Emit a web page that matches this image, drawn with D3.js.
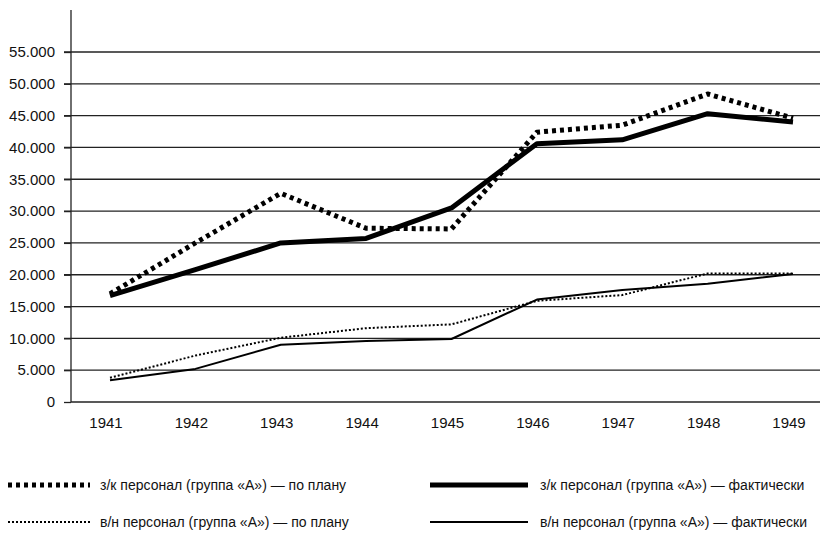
<!DOCTYPE html>
<html>
<head>
<meta charset="utf-8">
<script src="https://cdn.jsdelivr.net/npm/d3@7"></script>
<style>
  body { margin: 0; background: #fff; }
  svg text { font-family: "Liberation Sans Narrow", "Liberation Sans", Arial, sans-serif; fill: #111; }
</style>
</head>
<body>
<div id="chart"></div>
<script>
// годы
const years = ['1941', '1942', '1943', '1944', '1945', '1946', '1947', '1948', '1949'];

// значения серий
const zkPlan = [17000, 25000, 32800, 27300, 27200, 42400, 43500, 48400, 44600];
const zkFact = [16700, 20800, 25000, 25700, 30500, 40600, 41200, 45300, 44000];
const vnPlan = [3800, 7300, 10100, 11600, 12200, 15900, 16800, 20200, 20200];
const vnFact = [3400, 5200, 9000, 9600, 9900, 16100, 17600, 18600, 20100];

const yTicks = [0, 5000, 10000, 15000, 20000, 25000, 30000, 35000, 40000, 45000, 50000, 55000];

const seriesNames = [
    'з/к персонал (группа «А») — по плану',
    'з/к персонал (группа «А») — фактически',
    'в/н персонал (группа «А») — по плану',
    'в/н персонал (группа «А») — фактически'
];

const W = 833, H = 533;
const plotLeft = 71, plotRight = 820, plotBottom = 402, axisTop = 10;

let svg = d3.select('#chart').append('svg')
    .attr('width', W).attr('height', H);

const xScale = d3.scalePoint().domain(years).range([110, 793]);
const yScale = d3.scaleLinear().domain([0, 55000]).range([plotBottom, 52]);

// сетка
svg.append('g').selectAll('line').data(yTicks.filter(d => d > 0)).enter()
    .append('line')
    .attr('x1', plotLeft - 7).attr('x2', plotRight)
    .attr('y1', d => yScale(d)).attr('y2', d => yScale(d))
    .attr('stroke', '#222').attr('stroke-width', 1.3);

// ось y
let yAxis = d3.axisLeft(yScale).tickValues(yTicks).tickSize(7).tickPadding(9)
    .tickFormat(d => d === 0 ? '0' : d3.format(',')(d).replace(',', '.'));
let yg = svg.append('g').attr('transform', 'translate(' + plotLeft + ',0)').call(yAxis);
yg.select('.domain').remove();
yg.selectAll('line').attr('stroke', '#222').attr('stroke-width', 1.3);
yg.selectAll('text').style('font-size', '15px');

svg.append('line')
    .attr('x1', plotLeft).attr('x2', plotLeft)
    .attr('y1', axisTop).attr('y2', plotBottom)
    .attr('stroke', '#222').attr('stroke-width', 1.3);

// ось x
svg.append('line')
    .attr('x1', plotLeft).attr('x2', plotRight)
    .attr('y1', plotBottom).attr('y2', plotBottom)
    .attr('stroke', '#222').attr('stroke-width', 1.3);

svg.append('g').selectAll('text').data(years).enter()
    .append('text')
    .attr('x', d => xScale(d) - 4)
    .attr('y', 428)
    .attr('text-anchor', 'middle')
    .style('font-size', '15px')
    .text(d => d);

const styles = [
    { width: 5, dash: '4,4' },
    { width: 5, dash: null },
    { width: 2, dash: '2,2' },
    { width: 2, dash: null }
];
const seriesData = [zkPlan, zkFact, vnPlan, vnFact];

let line = d3.line()
    .x((d, i) => xScale(years[i]))
    .y(d => yScale(d));

// рисуем сначала тонкие, потом толстые
[3, 2, 1, 0].forEach(function (k) {
    svg.append('path')
        .datum(seriesData[k])
        .attr('d', line)
        .attr('fill', 'none')
        .attr('stroke', '#000')
        .attr('stroke-width', styles[k].width)
        .attr('stroke-linejoin', 'round')
        .attr('stroke-dasharray', styles[k].dash);
});

// легенда
const legendPos = [
    { x: 8, y: 485, len: 82, tx: 100 },
    { x: 430, y: 485, len: 98, tx: 540 },
    { x: 8, y: 522, len: 82, tx: 100 },
    { x: 430, y: 522, len: 98, tx: 540 }
];

legendPos.forEach(function (p, k) {
    svg.append('line')
        .attr('x1', p.x).attr('x2', p.x + p.len)
        .attr('y1', p.y).attr('y2', p.y)
        .attr('stroke', '#000')
        .attr('stroke-width', styles[k].width)
        .attr('stroke-dasharray', styles[k].dash);
    svg.append('text')
        .attr('x', p.tx).attr('y', p.y + 5)
        .style('font-size', '14px')
        .text(seriesNames[k]);
});
</script>
</body>
</html>
